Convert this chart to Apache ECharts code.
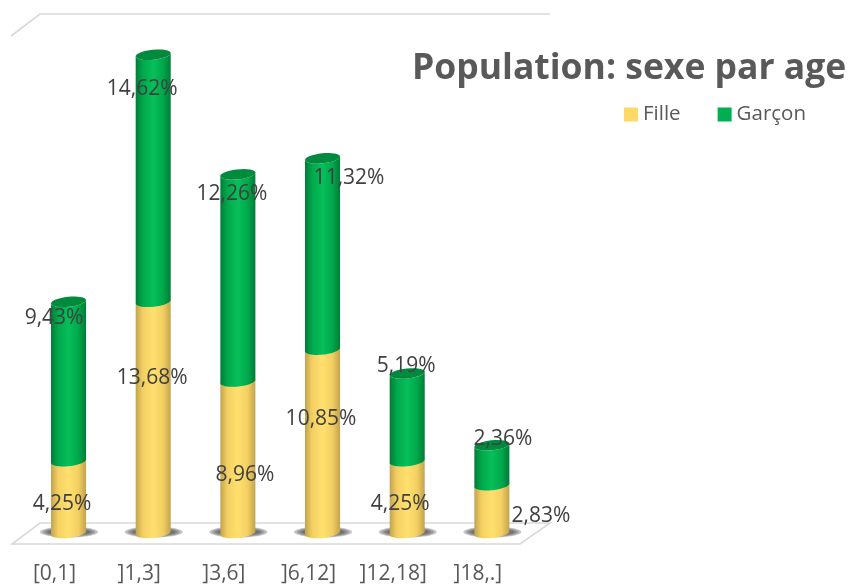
<!DOCTYPE html>
<html lang="fr">
<head>
  <meta charset="UTF-8">
  <title>Population: sexe par age</title>
  <script src="https://cdn.jsdelivr.net/npm/echarts@6/dist/echarts.min.js"></script>
  <style>
    html, body { margin: 0; padding: 0; background: #fff; }
    #container { width: 851px; height: 587px; }
  </style>
</head>
<body>
  <div id="container"></div>
  <script>
    const categories = ['[0,1]', ']1,3]', ']3,6]', ']6,12]', ']12,18]', ']18,.]'];
    const fille = [4.25, 13.68, 8.96, 10.85, 4.25, 2.83];
    const garcon = [9.43, 14.62, 12.26, 11.32, 5.19, 2.36];

    // hand placed labels in the original, offset from the top of each segment
    const filleLabelOffsets = [[-6.5, 43], [-1, 76], [7, 93], [-1.5, 69], [-7, 43], [49, 31]];
    const garconLabelOffsets = [[-14.5, 16], [-11, 34], [-6, 20], [26.5, 20], [-1, -7.5], [11, -6]];

    const FONT = '"Open Sans", sans-serif';
    const TILT = -6 * Math.PI / 180;
    const RY = 5;

    function ellipsePoint(cx, cy, rx, t) {
      const x = rx * Math.cos(t), y = RY * Math.sin(t);
      return [
        cx + x * Math.cos(TILT) - y * Math.sin(TILT),
        cy + x * Math.sin(TILT) + y * Math.cos(TILT)
      ];
    }

    function ellipseArc(cx, cy, rx, from, to) {
      const pts = [];
      for (let i = 0; i <= 32; i++) {
        pts.push(ellipsePoint(cx, cy, rx, from + (to - from) * i / 32));
      }
      return pts;
    }

    function sideGradient(edge, mid, light) {
      return {
        type: 'linear', x: 0, y: 0, x2: 1, y2: 0,
        colorStops: [
          { offset: 0, color: edge },
          { offset: 0.2, color: mid },
          { offset: 0.5, color: light },
          { offset: 0.78, color: mid },
          { offset: 1, color: edge }
        ]
      };
    }

    function cylinder(colors, offsets, isBase) {
      return function (params, api) {
        const idx = api.value(0);
        const bottom = api.coord([idx, api.value(1)]);
        const top = api.coord([idx, api.value(2)]);
        const cx = bottom[0];
        const rx = api.size([1, 0])[0] * 0.208;
        const off = offsets[idx];
        const side = ellipseArc(cx, top[1], rx, 0, Math.PI)
          .reverse()
          .concat(ellipseArc(cx, bottom[1], rx, Math.PI, 0).reverse());
        const children = [];
        if (isBase) {
          // soft shadow on the floor, a few stacked translucent ellipses
          [[1.65, 5.5], [1.5, 4.8], [1.35, 4], [1.2, 3.2]].forEach(function (s) {
            children.push({
              type: 'ellipse',
              shape: { cx: cx + 0.5, cy: bottom[1] - 1, rx: rx * s[0], ry: s[1] },
              style: { fill: 'rgba(70,70,70,0.3)' }
            });
          });
        }
        children.push({
          type: 'polygon',
          shape: { points: side },
          style: { fill: sideGradient(colors.edge, colors.mid, colors.light) }
        });
        children.push({
          type: 'polygon',
          shape: { points: ellipseArc(cx, top[1], rx, 0, Math.PI * 2) },
          style: { fill: colors.cap }
        });
        children.push({
          type: 'text',
          z2: 100,
          x: cx + off[0],
          y: top[1] + off[1],
          style: {
            text: api.value(3).toFixed(2).replace('.', ',') + '%',
            font: '21px ' + FONT,
            fill: '#404040',
            align: 'center',
            verticalAlign: 'middle'
          }
        });
        return { type: 'group', children: children };
      };
    }

    const filleData = fille.map((v, i) => [i, 0, v, v]);
    const garconData = garcon.map((v, i) => [i, fille[i], fille[i] + v, v]);

    const chart = echarts.init(document.getElementById('container'), null, { renderer: 'canvas' });
    chart.setOption({
      animation: false,
      backgroundColor: '#fff',
      title: {
        text: 'Population: sexe par age',
        left: 407,
        top: 46,
        textStyle: { fontFamily: FONT, fontSize: 35.5, fontWeight: 'bold', color: '#595959' }
      },
      legend: {
        left: 619,
        top: 99,
        itemWidth: 14,
        itemHeight: 14,
        itemGap: 37,
        icon: 'rect',
        data: ['Fille', 'Garçon'],
        textStyle: { fontFamily: FONT, fontSize: 20.5, color: '#595959' }
      },
      grid: { left: 26.2, width: 508, top: 26, height: 507 },
      xAxis: {
        type: 'category',
        data: categories,
        axisLine: { show: false },
        axisTick: { show: false },
        // labels sit left of the bars because of the 3d projection
        axisLabel: { margin: 31, padding: [0, 28, 0, 0], fontFamily: FONT, fontSize: 21, color: '#595959', interval: 0 }
      },
      yAxis: { type: 'value', min: 0, max: 30, show: false },
      // back wall edges and floor of the 3d frame
      graphic: [
        {
          type: 'polyline',
          z: 0,
          shape: { points: [[550, 14], [40, 14], [11, 36]] },
          style: { stroke: '#d9d9d9', lineWidth: 1.6, fill: null }
        },
        {
          type: 'polygon',
          z: 0,
          shape: { points: [[40, 523], [550, 523], [520, 544], [12, 544]] },
          style: { stroke: '#d9d9d9', lineWidth: 1.6, fill: '#fff' }
        }
      ],
      series: [
        {
          name: 'Fille',
          type: 'custom',
          itemStyle: { color: '#ffd966' },
          encode: { x: 0, y: [1, 2] },
          data: filleData,
          renderItem: cylinder(
            { edge: '#c2a34e', mid: '#f3cf62', light: '#ffe06e', cap: '#e6c35a' },
            filleLabelOffsets, true
          )
        },
        {
          name: 'Garçon',
          type: 'custom',
          itemStyle: { color: '#00b050' },
          encode: { x: 0, y: [1, 2] },
          data: garconData,
          renderItem: cylinder(
            { edge: '#007c38', mid: '#00a84b', light: '#06bf5a', cap: '#008a3e' },
            garconLabelOffsets, false
          )
        }
      ]
    });
  </script>
</body>
</html>
